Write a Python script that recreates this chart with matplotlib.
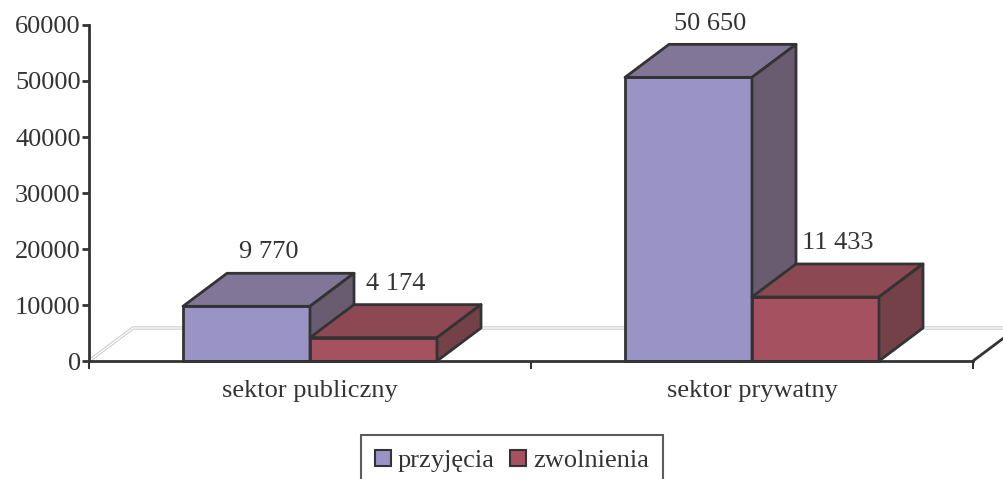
import matplotlib.pyplot as plt
from matplotlib.patches import Patch

categories = ["sektor publiczny", "sektor prywatny"]
series = ["przyjęcia", "zwolnienia"]
przyjecia = [9770, 50650]
zwolnienia = [4174, 11433]

# front, top, side shades for each series
colors = {
    "przyjęcia": ("#9A94C6", "#817697", "#6A5C70"),
    "zwolnienia": ("#A5515F", "#8C4953", "#744149"),
}
edge = "#333333"
fs = 19

plt.rcParams['font.family'] = ['Liberation Serif', 'DejaVu Serif']

fig = plt.figure(figsize=(10.04, 4.79), dpi=100)
W, H = 1004, 479
ax = fig.add_axes([89 / W, (H - 361) / H, (973 - 89) / W, (361 - 25) / H])
ax.set_xlim(-0.5, 1.5)
ax.set_ylim(0, 60000)

# depth of the fake 3d boxes, in data units
dx = 44 / 442
dy = 33 / 56 * 10000
bw = 127 / 442


def box(x0, val, col, z):
    front, top, side = col
    x1 = x0 + bw
    ax.fill([x0, x1, x1, x0], [0, 0, val, val], color=front, ec=edge, lw=2, zorder=z, clip_on=False)
    ax.fill([x0, x1, x1 + dx, x0 + dx], [val, val, val + dy, val + dy], color=top, ec=edge, lw=2,
            zorder=z, clip_on=False, joinstyle='round')
    ax.fill([x1, x1 + dx, x1 + dx, x1], [0, dy, val + dy, val], color=side, ec=edge, lw=2,
            zorder=z, clip_on=False, joinstyle='round')
    lab = "{:,}".format(val).replace(",", " ")
    ax.annotate(lab, (x0 + bw / 2 + dx / 2, val + dy), xytext=(0, 15), textcoords='offset points',
                ha='center', va='center', fontsize=fs, color='#333333', zorder=10)


# floor (light gray double line)
x0, x1 = ax.get_xlim()
fx = [x0, x0 + dx, x1 + dx]
fy = [0, dy, dy]
ax.plot(fx, fy, color='#cccccc', lw=2.4, zorder=1, clip_on=False, solid_capstyle='butt')
ax.plot(fx, fy, color='white', lw=0.9, zorder=1.1, clip_on=False, solid_capstyle='butt')
ax.plot([x1, x1 + dx], [0, dy], color=edge, lw=2, zorder=2, clip_on=False)

for i in range(len(categories)):
    box(i - bw, przyjecia[i], colors["przyjęcia"], 3 + i * 2)
    box(i, zwolnienia[i], colors["zwolnienia"], 4 + i * 2)

for s in ['top', 'right']:
    ax.spines[s].set_visible(False)
for s in ['left', 'bottom']:
    ax.spines[s].set_color(edge)
    ax.spines[s].set_linewidth(2)
    ax.spines[s].set_zorder(9)

ax.set_yticks(range(0, 60001, 10000))
ax.tick_params(axis='y', direction='out', length=5, width=2, color=edge, labelsize=fs,
               labelcolor='#333333', pad=1)
ax.set_xticks([-0.5, 0.5, 1.5])
ax.set_xticklabels([])
ax.tick_params(axis='x', which='major', direction='out', length=6, width=1.5, color=edge)
ax.set_xticks([0, 1], minor=True)
ax.set_xticklabels(categories, minor=True)
ax.tick_params(axis='x', which='minor', length=0, labelsize=fs, labelcolor='#333333', pad=14)

handles = [Patch(facecolor=colors[s][0], edgecolor=edge, lw=1.5) for s in series]
leg = fig.legend(handles, series, loc='upper center', bbox_to_anchor=(512 / W, 1 - 435 / H),
                 ncol=2, fontsize=fs, frameon=True, fancybox=False, handlelength=0.6,
                 handleheight=0.6, handletextpad=0.25, columnspacing=0.6, borderpad=0.55,
                 borderaxespad=0)
leg.get_frame().set_edgecolor(edge)
leg.get_frame().set_linewidth(1.5)
for t in leg.get_texts():
    t.set_color('#333333')

fig.savefig("out.png", dpi=100)
